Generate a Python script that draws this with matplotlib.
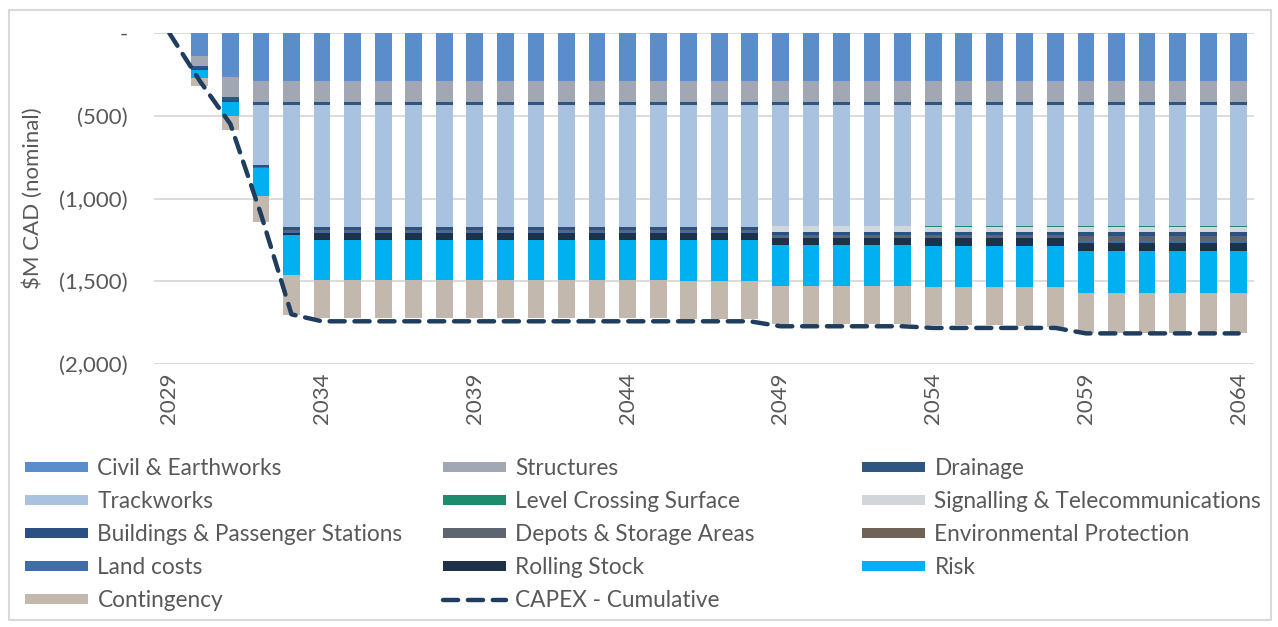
import matplotlib
matplotlib.use("Agg")
import matplotlib.pyplot as plt
import matplotlib.patches as mpatches
from matplotlib.lines import Line2D
from matplotlib.ticker import FuncFormatter

plt.rcParams['font.family'] = ['Lato', 'DejaVu Sans']

# yearly cumulative CAPEX by category, $M CAD (nominal), shown as costs (negative)
years = list(range(2029, 2065))

civil = [0, 140, 264, 293, 293, 293, 293, 293, 293, 293, 293, 293, 293, 293, 293, 293, 293, 293,
         293, 293, 293, 293, 293, 293, 293, 293, 293, 293, 293, 293, 293, 293, 293, 293, 293, 293]
structures = [0, 62, 120, 124, 125, 125, 125, 125, 125, 125, 125, 125, 125, 125, 125, 125, 125, 125,
              125, 125, 125, 125, 125, 125, 125, 125, 125, 125, 125, 125, 125, 125, 125, 125, 125, 125]
drainage = [0, 12, 22, 18, 20, 20, 20, 20, 20, 20, 20, 20, 20, 20, 20, 20, 20, 20,
            20, 20, 20, 20, 20, 20, 20, 20, 20, 20, 20, 20, 20, 20, 20, 20, 20, 20]
trackworks = [0, 0, 0, 360, 735, 735, 735, 735, 735, 735, 735, 735, 735, 735, 735, 735, 735, 735,
              735, 735, 730, 730, 730, 730, 730, 730, 730, 730, 730, 730, 730, 730, 730, 730, 730, 730]
level_crossing = [0, 0, 0, 0, 0, 0, 0, 0, 0, 0, 0, 0, 0, 0, 0, 0, 0, 0,
                  0, 0, 0, 0, 0, 0, 0, 6, 6, 6, 6, 6, 6, 6, 6, 6, 6, 6]
signalling = [0, 0, 0, 0, 0, 0, 0, 0, 0, 0, 0, 0, 0, 0, 0, 0, 0, 0,
              0, 0, 35, 35, 35, 35, 35, 30, 30, 30, 30, 30, 30, 30, 30, 30, 30, 30]
buildings = [0, 10, 10, 12, 15, 15, 15, 15, 15, 15, 15, 15, 15, 15, 15, 15, 15, 15,
             15, 15, 15, 15, 15, 15, 15, 15, 15, 15, 15, 15, 25, 25, 25, 25, 25, 25]
depots = [0, 0, 0, 8, 12, 12, 12, 12, 12, 12, 12, 12, 12, 12, 12, 12, 12, 12,
          12, 12, 12, 12, 12, 12, 12, 12, 12, 12, 12, 12, 28, 28, 28, 28, 28, 28]
environmental = [0, 0, 0, 0, 4, 4, 4, 4, 4, 4, 4, 4, 4, 4, 4, 4, 4, 4,
                 4, 4, 4, 4, 4, 4, 4, 4, 4, 4, 4, 4, 4, 4, 4, 4, 4, 4]
land = [0, 0, 0, 0, 5, 5, 5, 5, 5, 5, 5, 5, 5, 5, 5, 5, 5, 5,
        5, 5, 5, 5, 5, 5, 5, 5, 5, 5, 5, 5, 5, 5, 5, 5, 5, 5]
rolling_stock = [0, 0, 0, 0, 10, 40, 40, 40, 40, 40, 40, 40, 40, 40, 40, 40, 40, 42,
                 42, 42, 42, 42, 42, 42, 42, 45, 45, 45, 45, 45, 50, 50, 50, 50, 50, 50]
risk = [0, 50, 87, 167, 245, 242, 242, 242, 242, 242, 242, 242, 242, 242, 242, 242, 242, 245,
        245, 245, 248, 248, 248, 248, 248, 248, 248, 248, 248, 252, 256, 256, 256, 256, 256, 256]
contingency = [0, 46, 85, 157, 241, 229, 229, 229, 229, 229, 229, 229, 229, 229, 229, 229, 229, 231,
               231, 231, 231, 231, 231, 231, 231, 234, 234, 234, 237, 240, 241, 241, 241, 241, 241, 241]

capex_cumulative = [0, 290, 550, 1095, 1700, 1742, 1742, 1742, 1742, 1742, 1742, 1742, 1742, 1742,
                    1742, 1742, 1742, 1742, 1742, 1742, 1772, 1772, 1772, 1772, 1772, 1782, 1782,
                    1782, 1782, 1782, 1815, 1815, 1815, 1815, 1815, 1815]

categories = ['Civil & Earthworks', 'Structures', 'Drainage', 'Trackworks',
              'Level Crossing Surface', 'Signalling & Telecommunications',
              'Buildings & Passenger Stations', 'Depots & Storage Areas',
              'Environmental Protection', 'Land costs', 'Rolling Stock', 'Risk', 'Contingency']
series = [civil, structures, drainage, trackworks, level_crossing, signalling, buildings,
          depots, environmental, land, rolling_stock, risk, contingency]
colors = ['#5A8DCA', '#A2A8B3', '#2F5680', '#A8C2DF', '#1C8C6C', '#D2D5DA', '#2B5184',
          '#5E6571', '#6F6257', '#3E6EA8', '#1D3249', '#00B0F0', '#C3B8AE']

text_grey = '#595959'
line_color = '#1F3D5E'

fig = plt.figure(figsize=(12.78, 6.27), dpi=100)
ax = fig.add_axes([154 / 1278, 1 - 364 / 627, 1100 / 1278, 331 / 627])

### stacked bars going downwards from zero
bottom = [0] * len(years)
for name, vals, col in zip(categories, series, colors):
    neg = [-v for v in vals]
    ax.bar(years, neg, bottom=bottom, width=0.55, color=col, zorder=2, label=name)
    bottom = [b + n for b, n in zip(bottom, neg)]

### cumulative CAPEX dashed line
ax.plot(years, [-v for v in capex_cumulative], color=line_color, lw=3.2,
        dashes=(3.4, 2.2), dash_capstyle='round', zorder=3)

ax.set_xlim(2028.5, 2064.5)
ax.set_ylim(-2000, 0)
ax.set_yticks([0, -500, -1000, -1500, -2000])
ax.yaxis.set_major_formatter(FuncFormatter(lambda v, p: '-' if v == 0 else '({:,.0f})'.format(abs(v))))
ax.set_xticks(list(range(2029, 2065, 5)))
ax.tick_params(axis='x', rotation=90, length=0, pad=6, labelsize=16, labelcolor=text_grey)
ax.tick_params(axis='y', length=0, pad=19, labelsize=16, labelcolor=text_grey)
ax.grid(axis='y', color='#D9D9D9', lw=1.3, zorder=0)
ax.set_axisbelow(True)
for s in ax.spines.values():
    s.set_visible(False)
ax.set_ylabel('$M CAD (nominal)', fontsize=16, color=text_grey)
ax.yaxis.set_label_coords(-0.101, 0.5)

### legend, three columns laid out like the row order of the categories
patch_handles = [mpatches.Patch(facecolor=c, edgecolor='none') for c in colors]
line_handle = Line2D([], [], color=line_color, lw=3.2, dashes=(3.4, 2.2), dash_capstyle='round')
handles = patch_handles + [line_handle]
labels = categories + ['CAPEX - Cumulative']

col_x = [25 / 1278, 443 / 1278, 862 / 1278]
for c in range(3):
    idx = list(range(c, len(handles), 3))
    fig.legend([handles[i] for i in idx], [labels[i] for i in idx],
               loc='upper left', bbox_to_anchor=(col_x[c], 1 - 458 / 627),
               frameon=False, fontsize=16.3, labelcolor=text_grey,
               handlelength=2.8, handleheight=0.33, handletextpad=0.4,
               labelspacing=0.53, borderaxespad=0, borderpad=0)

### light frame around the whole chart
fig.patches.append(mpatches.Rectangle((9 / 1278, 7 / 627), 1262 / 1278, 610 / 627,
                                      transform=fig.transFigure, fill=False,
                                      edgecolor='#D9D9D9', lw=1.5))

fig.savefig('out.png', dpi=100)
